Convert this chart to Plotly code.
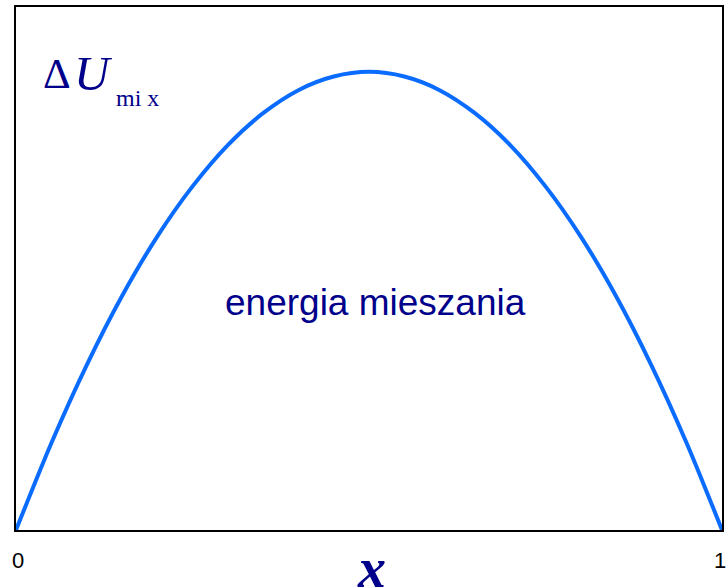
import plotly.graph_objects as go

# composition (mole fraction) and relative mixing energy
x_frac = [0.0, 0.05, 0.10, 0.15, 0.20, 0.25, 0.30, 0.35, 0.40, 0.45, 0.50,
          0.55, 0.60, 0.65, 0.70, 0.75, 0.80, 0.85, 0.90, 0.95, 1.0]
dU_mix = [0.0, 0.166, 0.315, 0.447, 0.561, 0.657, 0.736, 0.797, 0.841, 0.867, 0.876,
          0.867, 0.841, 0.797, 0.736, 0.657, 0.561, 0.447, 0.315, 0.166, 0.0]

tick_vals = [0, 1]
tick_text = ["0", "1"]

NAVY = "#00008B"
BLUE = "#0A6CFF"

fig = go.Figure()
fig.add_trace(go.Scatter(
    x=x_frac, y=dU_mix, mode="lines",
    line=dict(color=BLUE, width=4, shape="spline", smoothing=0.8),
    hoverinfo="skip", showlegend=False,
))

W, H = 728, 587
L, R, T, B = 16, 4, 7, 57
pw, ph = W - L - R, H - T - B

def px(xp):
    return (xp - L) / pw

def py(yp):
    return (H - B - yp) / ph

def note(text, xp, yp, size, family, color, xanchor="center"):
    return dict(text=text, x=px(xp), y=py(yp), xref="paper", yref="paper",
                showarrow=False, xanchor=xanchor, yanchor="middle",
                font=dict(family=family, size=size, color=color))

ann = [
    note("Δ", 57.5, 74, 43, "Liberation Serif", NAVY),
    note("<i>U</i>", 94, 74, 49, "Liberation Serif", NAVY),
    note("mi x", 138, 98, 24, "Liberation Serif", NAVY),
    note("energia mieszania", 377, 302, 37, "Liberation Sans", NAVY),
    note("<b><i>x</i></b>", 373, 568, 56, "Liberation Serif", NAVY),
]

# tick labels at the ends of the composition axis
for v, t in zip(tick_vals, tick_text):
    xpix = L + v * pw
    if v == 1:
        ann.append(dict(text=t, x=1 + (W + 2 - xpix) / pw, y=py(560), xref="paper", yref="paper",
                        showarrow=False, xanchor="right", yanchor="middle",
                        font=dict(family="Liberation Sans", size=22, color="black")))
    else:
        ann.append(note(t, xpix + 2.5, 560, 22, "Liberation Sans", "black"))

fig.update_layout(
    width=W, height=H,
    margin=dict(l=L, r=R, t=T, b=B),
    paper_bgcolor="white", plot_bgcolor="white",
    annotations=ann,
    xaxis=dict(range=[0, 1], showticklabels=False,
               showgrid=False, zeroline=False, showline=True, mirror=True,
               linecolor="black", linewidth=2, ticks=""),
    yaxis=dict(range=[0, 1], showticklabels=False, showgrid=False, zeroline=False,
               showline=True, mirror=True, linecolor="black", linewidth=2, ticks=""),
)

fig.write_html("out.html",
               config={"displayModeBar": False},
               post_script="document.body.style.margin='0';document.body.style.overflow='hidden';")
